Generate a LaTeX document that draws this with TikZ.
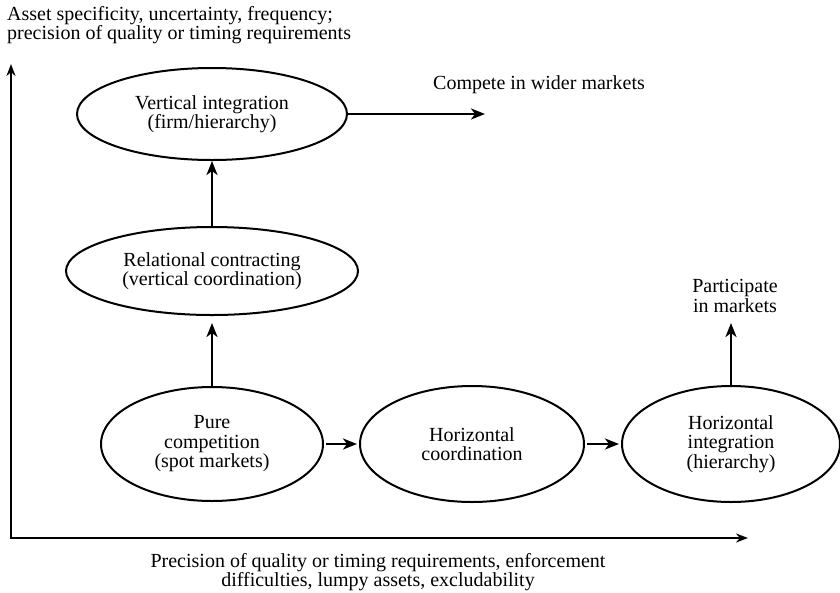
\documentclass[tikz,border=0pt]{standalone}
\usepackage{fontspec}
\setmainfont{Liberation Serif}
\usetikzlibrary{arrows.meta,shapes.geometric}
\begin{document}
\begin{tikzpicture}[x=1pt,y=-1pt,
  txt/.style={font=\fontsize{20}{19.5}\selectfont, align=center, inner sep=0pt},
  oval/.style={draw, line width=2pt, ellipse, inner sep=0pt, txt},
  flow/.style={line width=2.6pt, -{Stealth[length=14pt,width=11pt,inset=4pt]}},
  axis/.style={line width=2.4pt, line join=miter,
    {Stealth[length=12pt,width=9pt]}-{Stealth[length=12pt,width=9pt]}}]
\useasboundingbox (0,0) rectangle (840,592);

% axes
\coordinate (o) at (11,538);
\coordinate (ytip) at (11,64);
\coordinate (xtip) at (748,538);
\draw[axis] (ytip) -- (o) -- (xtip);
\node[txt, align=left, anchor=north west] (ylab) at (7,6)
  {Asset specificity, uncertainty, frequency;\\precision of quality or timing requirements};
\node[txt, anchor=north] (xlab) at (378,553)
  {Precision of quality or timing requirements, enforcement\\difficulties, lumpy assets, excludability};

% governance forms
\node[oval, minimum width=270pt, minimum height=92pt] (vi) at (212,114)
  {Vertical integration\\(firm/hierarchy)};
\node[oval, minimum width=292pt, minimum height=88pt] (rc) at (212,271)
  {Relational contracting\\(vertical coordination)};
\node[oval, minimum width=222pt, minimum height=114pt] (pc) at (212,444)
  {Pure\\competition\\(spot markets)};
\node[oval, minimum width=224pt, minimum height=116pt] (hc) at (472,444)
  {Horizontal\\coordination};
\node[oval, minimum width=218pt, minimum height=116pt] (hi) at (731,444)
  {Horizontal\\integration\\(hierarchy)};

% outcomes
\node[txt, anchor=west] (cw) at (433,85) {Compete in wider markets};
\node[txt] (pm) at (735,296) {Participate\\in markets};
\coordinate (cwtip) at (485,114);
\coordinate (pmtip) at (731,323);

% transitions
\draw[flow] (vi.east) -- (cwtip);
\draw[flow] (rc.north) -- (vi.south);
\draw[flow, shorten >=7pt] (pc.north) -- (rc.south);
\draw[flow, shorten <=2pt, shorten >=2pt] (pc.east) -- (hc.west);
\draw[flow, shorten <=2pt, shorten >=2pt] (hc.east) -- (hi.west);
\draw[flow] (hi.north) -- (pmtip);
\end{tikzpicture}
\end{document}
